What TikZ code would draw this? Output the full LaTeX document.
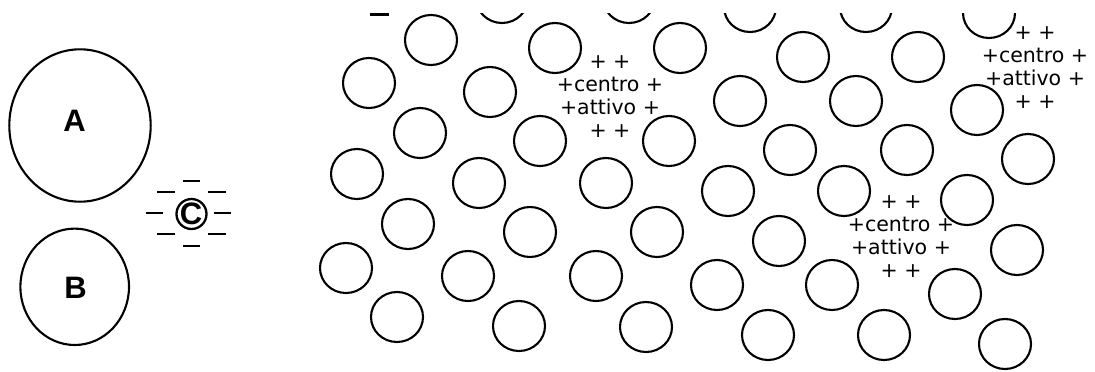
\documentclass[tikz,border=0pt]{standalone}
\usepackage{fontspec}
\newfontfamily\lettera{Liberation Sans}
\newfontfamily\testo{DejaVu Sans}
\tikzset{
  poro/.style={line width=2.1pt},
  carica/.style={line width=2.3pt},
  centro/.style={font=\testo\fontsize{20.5}{23}\selectfont, align=center, inner sep=0pt},
  sigla/.style={font=\lettera\bfseries\fontsize{31}{31}\selectfont, inner sep=0pt}
}
\begin{document}
\begin{tikzpicture}[x=1pt, y=-1pt]
\useasboundingbox (0,0) rectangle (1095,372);
% Molecole A e B
\draw[poro] (80,125.5) ellipse [x radius=70.7pt, y radius=76.2pt];
\draw[poro] (74.7,286.8) ellipse [x radius=54.3pt, y radius=58.2pt];
\node[sigla] (A) at (74.5,121) {A};
\node[sigla] (B) at (75.5,288) {B};

% Molecola C con cariche negative
\draw[carica] (191.5,214) circle (15pt);
\node[sigla] (C) at (191,214) {C};
\foreach \xa/\xb/\yy in {183/200/181, 157/175/192, 208/226/192, 146/163/213,
                         214/231/213, 157/175/234, 208/226/234, 183/200/246}
  \draw[carica] (\xa,\yy) -- (\xb,\yy);

% Superficie del catalizzatore
\begin{scope}
\clip (300,13) rectangle (1095,372);
\foreach \cx/\cy in {431/40, 502/-2, 555/48, 629/-2, 680/48, 750/7, 803/57, 866/7, 918/57, 989/13,
                     369/83, 490/92, 740/101, 856/101, 977/110,
                     420/133, 540/141, 669/141, 790/150, 907/150, 1028/159,
                     357/174, 479/183, 606/183, 728/191, 844/191, 967/200,
                     408/224, 530/232, 657/232, 779/241, 1017/250,
                     346/268, 468/276, 596/276, 717/285, 832/285, 955/294,
                     397/317, 519/326, 646/327, 768/335, 884/335, 1005/344}
  \draw[poro] (\cx,\cy) ellipse [x radius=26pt, y radius=25pt];
\draw[carica] (370,14.5) -- (389,14.5);
\end{scope}

% Centri attivi
\node[centro] (centro1) at (610,96.5) {+ +\\+centro +\\+attivo +\\+ +};
\node[centro] (centro2) at (1035,67.5) {+ +\\+centro +\\+attivo +\\+ +};
\node[centro] (centro3) at (901,237) {+ +\\+centro +\\+attivo +\\+ +};
\end{tikzpicture}
\end{document}
